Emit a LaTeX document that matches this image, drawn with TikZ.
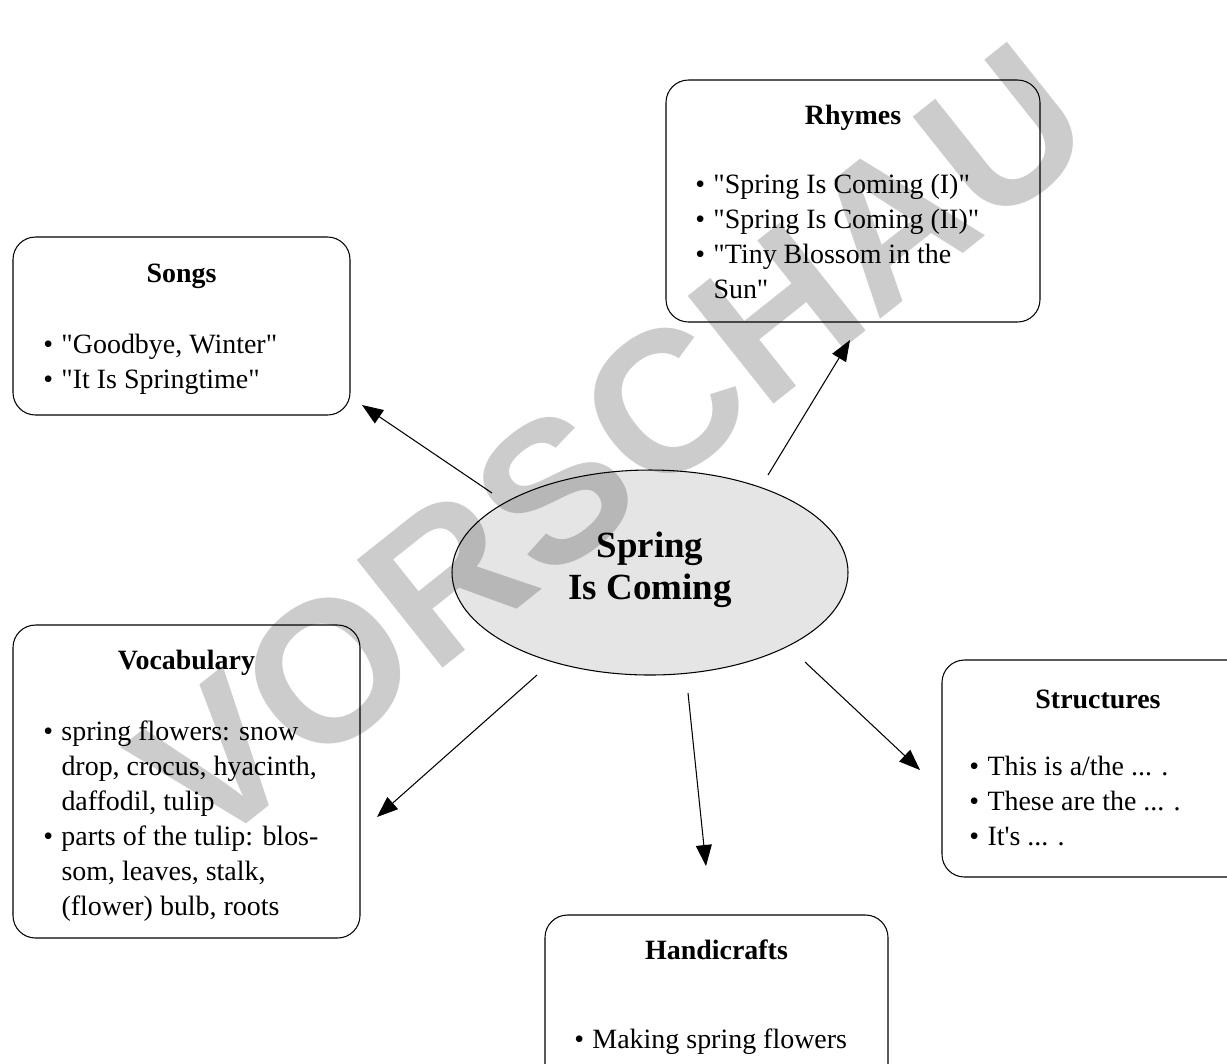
\documentclass[tikz,border=0pt]{standalone}
\usepackage{fontspec}
\setmainfont{Liberation Serif}[Ligatures=TeXOff]
\newfontfamily\stampfont{Liberation Sans}
\usetikzlibrary{shapes.geometric,arrows.meta}

\newcommand{\itm}{\strut\makebox[0.65em][l]{\textbullet}}
\newcommand{\cont}{\strut\hspace*{0.65em}}

\begin{document}
\begin{tikzpicture}[
	box/.style={draw, line width=0.6pt, rounded corners=0.45cm, inner sep=0},
	head/.style={anchor=base, inner sep=0, font=\fontsize{15.9}{19.9}\selectfont\bfseries},
	items/.style={anchor=north west, inner sep=0, align=left, font=\fontsize{15.9}{19.9}\selectfont},
	arrow/.style={-{Triangle[length=0.42cm,width=0.32cm]}, line width=0.6pt},
	stamp/.style={rotate=38.5, inner sep=0, text=black, text opacity=0.2, font=\stampfont\bfseries\fontsize{114}{116}\selectfont}
]
	\useasboundingbox (0,0) rectangle (24.54,-21.26);
	
	% boxes
	\node[box, minimum width=6.74cm, minimum height=3.56cm] (songs) at (3.63,-6.52) {};
	\node[box, minimum width=7.48cm, minimum height=4.84cm] (rhymes) at (17.06,-4.02) {};
	\node[box, minimum width=6.94cm, minimum height=6.26cm] (vocab) at (3.73,-15.63) {};
	\node[box, minimum width=6.24cm, minimum height=4.34cm] (struct) at (21.96,-15.37) {};
	\node[box, minimum width=6.86cm, minimum height=3.56cm] (crafts) at (14.33,-20.08) {};
	
	% centre
	\node[ellipse, draw, line width=0.6pt, fill=black!10, minimum width=7.92cm, minimum height=4.1cm, inner sep=0] (hub) at (13,-11.45) {};
	\node[align=center, inner sep=0, font=\fontsize{21}{23.9}\selectfont\bfseries] (hubtext) at (13,-11.40) {Spring\\Is Coming};
	
	% arrows
	\coordinate (songs-tail) at (9.84,-9.86);
	\coordinate (songs-tip) at (7.24,-8.1);
	\coordinate (rhymes-tail) at (15.36,-9.5);
	\coordinate (rhymes-tip) at (17.0,-6.8);
	\coordinate (vocab-tail) at (10.74,-13.5);
	\coordinate (vocab-tip) at (7.54,-16.34);
	\coordinate (crafts-tail) at (13.76,-13.86);
	\coordinate (crafts-tip) at (14.12,-17.32);
	\coordinate (struct-tail) at (16.1,-13.24);
	\coordinate (struct-tip) at (18.4,-15.4);
	\draw[arrow] (songs-tail) -- (songs-tip);
	\draw[arrow] (rhymes-tail) -- (rhymes-tip);
	\draw[arrow] (vocab-tail) -- (vocab-tip);
	\draw[arrow] (crafts-tail) -- (crafts-tip);
	\draw[arrow] (struct-tail) -- (struct-tip);
	
	% titles
	\node[head] (songs-head) at (3.63,-5.65) {Songs};
	\node[head] (rhymes-head) at (17.06,-2.49) {Rhymes};
	\node[head] (vocab-head) at (3.73,-13.39) {Vocabulary};
	\node[head] (struct-head) at (21.96,-14.16) {Structures};
	\node[head] (crafts-head) at (14.33,-19.19) {Handicrafts};
	
	% lists
	\node[items] (songs-list) at (0.86,-6.57) {\itm "Goodbye, Winter"\\
		\itm "It Is Springtime"};
	\node[items] (rhymes-list) at (13.9,-3.37) {\itm "Spring Is Coming (I)"\\
		\itm "Spring Is Coming (II)"\\
		\itm "Tiny Blossom in the\\
		\cont Sun"};
	\node[items] (vocab-list) at (0.86,-14.31) {\itm spring flowers: snow\\
		\cont drop, crocus, hyacinth,\\
		\cont daffodil, tulip\\
		\itm parts of the tulip: blos-\\
		\cont som, leaves, stalk,\\
		\cont (flower) bulb, roots};
	\node[items] (struct-list) at (19.38,-15.01) {\itm This is a/the ... .\\
		\itm These are the ... .\\
		\itm It's ... .};
	\node[items] (crafts-list) at (11.48,-20.47) {\itm Making spring flowers};
	
	% watermark
	\node[stamp] (wm) at (12.23,-8.91) {VORSCHAU};
\end{tikzpicture}
\end{document}
